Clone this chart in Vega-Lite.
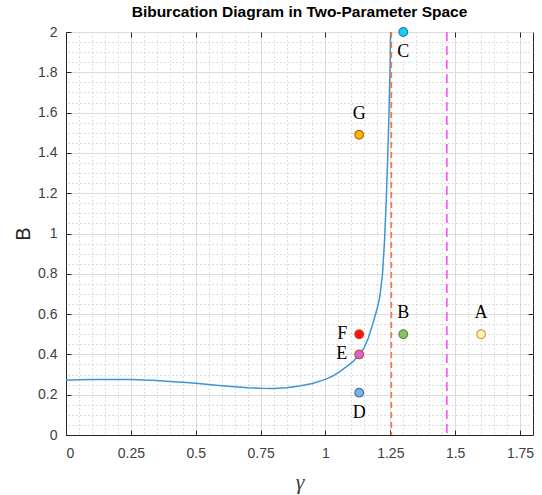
{
  "$schema": "https://vega.github.io/schema/vega-lite/v6.json",
  "width": 467,
  "height": 403,
  "autosize": "none",
  "padding": {"left": 66, "top": 32, "right": 9, "bottom": 60},
  "background": "white",
  "title": {"text": "Biburcation Diagram in Two-Parameter Space", "font": "Liberation Sans", "fontSize": 15.5, "fontWeight": "bold", "color": "#000000", "offset": 5, "anchor": "middle"},
  "config": {"view": {"stroke": "#262626", "strokeWidth": 1}},
  "datasets": {
    "curve": [
      {"gamma": 0, "B": 0.272}, {"gamma": 0.05, "B": 0.274}, {"gamma": 0.1, "B": 0.275}, {"gamma": 0.15, "B": 0.276},
      {"gamma": 0.2, "B": 0.276}, {"gamma": 0.25, "B": 0.275}, {"gamma": 0.3, "B": 0.273}, {"gamma": 0.35, "B": 0.27},
      {"gamma": 0.4, "B": 0.266}, {"gamma": 0.45, "B": 0.262}, {"gamma": 0.5, "B": 0.257}, {"gamma": 0.55, "B": 0.251},
      {"gamma": 0.6, "B": 0.245}, {"gamma": 0.65, "B": 0.24}, {"gamma": 0.7, "B": 0.235}, {"gamma": 0.75, "B": 0.232},
      {"gamma": 0.8, "B": 0.231}, {"gamma": 0.85, "B": 0.234}, {"gamma": 0.9, "B": 0.243}, {"gamma": 0.95, "B": 0.256},
      {"gamma": 1.0, "B": 0.276}, {"gamma": 1.03, "B": 0.294}, {"gamma": 1.055, "B": 0.315}, {"gamma": 1.08, "B": 0.338},
      {"gamma": 1.106, "B": 0.364}, {"gamma": 1.13, "B": 0.397}, {"gamma": 1.15, "B": 0.435}, {"gamma": 1.165, "B": 0.48},
      {"gamma": 1.183, "B": 0.554}, {"gamma": 1.2, "B": 0.63}, {"gamma": 1.21, "B": 0.69}, {"gamma": 1.22, "B": 0.8},
      {"gamma": 1.228, "B": 0.97}, {"gamma": 1.234, "B": 1.15}, {"gamma": 1.24, "B": 1.38}, {"gamma": 1.245, "B": 1.6},
      {"gamma": 1.249, "B": 1.82}, {"gamma": 1.251, "B": 2.0}
    ],
    "points": [
      {"name": "A", "gamma": 1.6, "B": 0.5},
      {"name": "B", "gamma": 1.3, "B": 0.5},
      {"name": "C", "gamma": 1.3, "B": 2.0},
      {"name": "D", "gamma": 1.13, "B": 0.21},
      {"name": "E", "gamma": 1.13, "B": 0.4},
      {"name": "F", "gamma": 1.13, "B": 0.5},
      {"name": "G", "gamma": 1.13, "B": 1.49}
    ],
    "lines": [
      {"name": "orange", "gamma": 1.254},
      {"name": "magenta", "gamma": 1.468}
    ]
  },
  "layer": [
    {
      "data": {"name": "curve"},
      "mark": {"type": "line", "color": "#3D95D5", "strokeWidth": 1.5, "clip": true},
      "encoding": {
        "x": {"field": "gamma", "type": "quantitative", "scale": {"domain": [0, 1.8], "nice": false, "zero": false},
          "axis": {"orient": "bottom", "values": [0, 0.25, 0.5, 0.75, 1, 1.25, 1.5, 1.75], "labelExpr": "'' + datum.value",
            "grid": true, "gridColor": "#DCDCDC", "gridWidth": 1, "gridOpacity": 1,
            "ticks": true, "tickSize": -5, "tickColor": "#262626", "domainColor": "#262626",
            "labelFont": "Liberation Sans", "labelFontSize": 14, "labelColor": "#404040", "labelPadding": 16,
            "title": "γ", "titleFont": "Liberation Serif", "titleFontSize": 22, "titleFontWeight": "normal", "titleFontStyle": "italic", "titleColor": "#404040", "titlePadding": 11}},
        "y": {"field": "B", "type": "quantitative", "scale": {"domain": [0, 2], "nice": false, "zero": false},
          "axis": {"orient": "left", "values": [0, 0.2, 0.4, 0.6, 0.8, 1, 1.2, 1.4, 1.6, 1.8, 2], "labelExpr": "'' + datum.value",
            "grid": true, "gridColor": "#DCDCDC", "gridWidth": 1, "gridOpacity": 1,
            "ticks": true, "tickSize": -5, "tickColor": "#262626", "domainColor": "#262626",
            "labelFont": "Liberation Sans", "labelFontSize": 14, "labelColor": "#404040", "labelPadding": 14,
            "title": "B", "titleFont": "Liberation Sans", "titleFontSize": 20, "titleFontWeight": "normal", "titleColor": "#262626", "titlePadding": 4}}
      }
    },
    {
      "data": {"name": "lines"},
      "mark": {"type": "rule", "strokeWidth": 1.6},
      "encoding": {
        "x": {"field": "gamma", "type": "quantitative",
          "axis": {"orient": "top", "values": [0.05, 0.1, 0.15, 0.2, 0.3, 0.35, 0.4, 0.45, 0.55, 0.6, 0.65, 0.7, 0.8, 0.85, 0.9, 0.95, 1.05, 1.1, 1.15, 1.2, 1.3, 1.35, 1.4, 1.45, 1.55, 1.6, 1.65, 1.7],
            "grid": true, "gridColor": "#BDBDBD", "gridDash": [1, 3], "gridWidth": 1, "gridOpacity": 1,
            "ticks": false, "labels": false, "domain": false, "title": null}},
        "color": {"field": "name", "type": "nominal", "scale": {"domain": ["orange", "magenta"], "range": ["#F07A44", "#FF4DFF"]}, "legend": null},
        "strokeDash": {"field": "name", "type": "nominal", "scale": {"domain": ["orange", "magenta"], "range": [[6, 4], [9, 5]]}, "legend": null}
      }
    },
    {
      "data": {"name": "points"},
      "mark": {"type": "point", "shape": "circle", "filled": true, "size": 75, "strokeWidth": 1.2, "opacity": 1},
      "encoding": {
        "x": {"field": "gamma", "type": "quantitative",
          "axis": {"orient": "top", "values": [0.25, 0.5, 0.75, 1, 1.25, 1.5, 1.75], "grid": false, "ticks": true, "tickSize": -5, "tickColor": "#262626", "labels": false, "domain": false, "title": null}},
        "y": {"field": "B", "type": "quantitative",
          "axis": {"orient": "right", "values": [0.05, 0.1, 0.15, 0.25, 0.3, 0.35, 0.45, 0.5, 0.55, 0.65, 0.7, 0.75, 0.85, 0.9, 0.95, 1.05, 1.1, 1.15, 1.25, 1.3, 1.35, 1.45, 1.5, 1.55, 1.65, 1.7, 1.75, 1.85, 1.9, 1.95],
            "grid": true, "gridColor": "#BDBDBD", "gridDash": [1, 3], "gridWidth": 1, "gridOpacity": 1,
            "ticks": false, "labels": false, "domain": false, "title": null}},
        "fill": {"field": "name", "type": "nominal", "scale": {"domain": ["A", "B", "C", "D", "E", "F", "G"], "range": ["#FFF1C2", "#8DBF63", "#1ECDF2", "#7FB1E2", "#E25FE0", "#FF1010", "#FFB400"]}, "legend": null},
        "stroke": {"field": "name", "type": "nominal", "scale": {"domain": ["A", "B", "C", "D", "E", "F", "G"], "range": ["#D4A12A", "#5E8E3E", "#1A82B5", "#3B74B5", "#B5552A", "#C5441E", "#B8690A"]}, "legend": null}
      }
    },
    {
      "data": {"name": "points"},
      "transform": [{"filter": "indexof(['A','B','G'], datum.name) >= 0"}],
      "mark": {"type": "text", "font": "Liberation Serif", "fontSize": 18, "color": "#000000", "baseline": "middle", "align": "center", "dy": -21},
      "encoding": {
        "x": {"field": "gamma", "type": "quantitative",
          "axis": {"orient": "bottom", "values": [0.25, 0.5, 0.75, 1, 1.25, 1.5, 1.75], "grid": false, "ticks": false, "labels": false, "domain": false, "title": null}},
        "y": {"field": "B", "type": "quantitative",
          "axis": {"orient": "right", "values": [0.2, 0.4, 0.6, 0.8, 1, 1.2, 1.4, 1.6, 1.8], "grid": false, "ticks": true, "tickSize": -5, "tickColor": "#262626", "labels": false, "domain": false, "title": null}},
        "text": {"field": "name"}
      }
    },
    {
      "data": {"name": "points"},
      "transform": [{"filter": "indexof(['C','D'], datum.name) >= 0"}],
      "mark": {"type": "text", "font": "Liberation Serif", "fontSize": 18, "color": "#000000", "baseline": "middle", "align": "center", "dy": 20},
      "encoding": {
        "x": {"field": "gamma", "type": "quantitative", "axis": null},
        "y": {"field": "B", "type": "quantitative", "axis": null},
        "text": {"field": "name"}
      }
    },
    {
      "data": {"name": "points"},
      "transform": [{"filter": "indexof(['E','F'], datum.name) >= 0"}],
      "mark": {"type": "text", "font": "Liberation Serif", "fontSize": 18, "color": "#000000", "baseline": "middle", "align": "right", "dx": -12},
      "encoding": {
        "x": {"field": "gamma", "type": "quantitative", "axis": null},
        "y": {"field": "B", "type": "quantitative", "axis": null},
        "text": {"field": "name"}
      }
    }
  ],
  "resolve": {"axis": {"x": "independent", "y": "independent"}}
}
